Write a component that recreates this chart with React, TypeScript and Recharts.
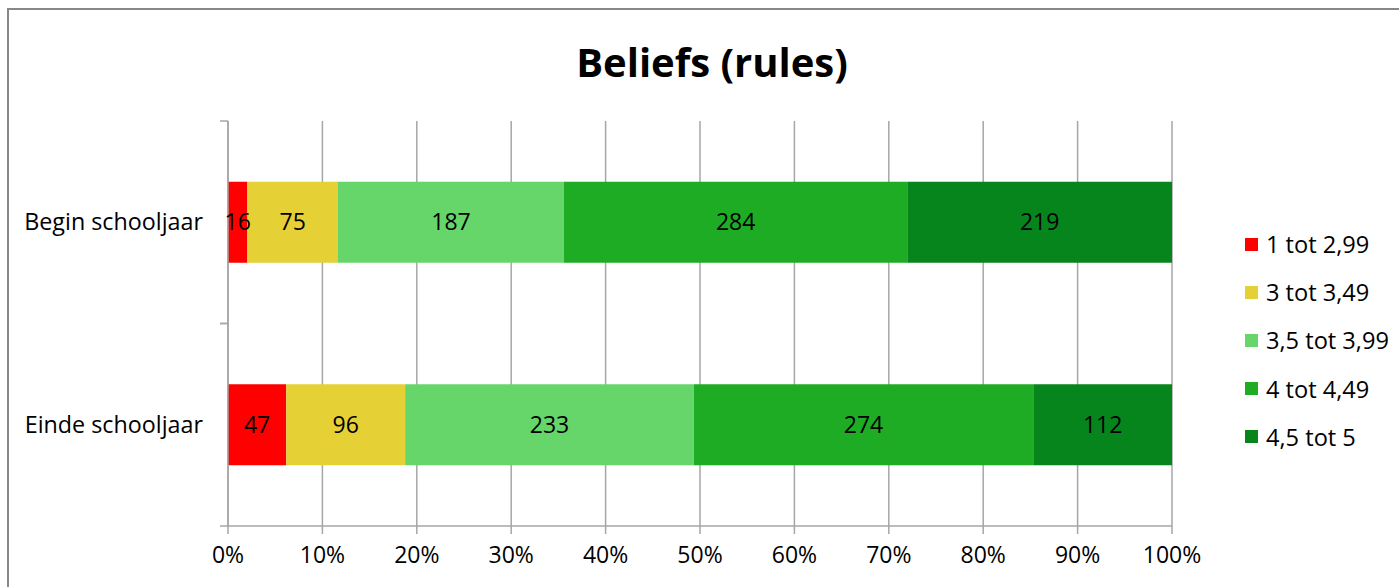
import React from 'react';
import {
  BarChart,
  Bar,
  XAxis,
  YAxis,
  CartesianGrid,
  Legend,
  LabelList,
} from 'recharts';

const categories = ['Begin schooljaar', 'Einde schooljaar'];
const seriesNames = ['1 tot 2,99', '3 tot 3,49', '3,5 tot 3,99', '4 tot 4,49', '4,5 tot 5'];
const seriesColors = ['#FF0000', '#E5D135', '#66D66A', '#1EAC25', '#06851D'];
const s1 = [16, 47];
const s2 = [75, 96];
const s3 = [187, 233];
const s4 = [284, 274];
const s5 = [219, 112];
const xTicks = [0, 0.1, 0.2, 0.3, 0.4, 0.5, 0.6, 0.7, 0.8, 0.9, 1];

const seriesValues = [s1, s2, s3, s4, s5];
const keys = ['s1', 's2', 's3', 's4', 's5'];

const data = categories.map((name, i) => {
  const row: Record<string, string | number> = { name };
  keys.forEach((k, j) => {
    row[k] = seriesValues[j][i];
  });
  return row;
});

const FONT = '"Open Sans", sans-serif';
const AXIS = '#A6A6A6';

// category label plus the small ticks on the band boundaries
const CategoryTick = (props: any) => {
  const { x, y, payload } = props;
  const half = payload.offset || 0;
  const ax = x + 25;
  return (
    <g>
      <line x1={ax - 8} x2={ax} y1={y - half} y2={y - half} stroke={AXIS} strokeWidth={1.5} />
      <line x1={ax - 8} x2={ax} y1={y + half} y2={y + half} stroke={AXIS} strokeWidth={1.5} />
      <text x={x} y={y} dy="0.35em" textAnchor="end" fill="#000" fontSize={23.3} fontFamily={FONT}>
        {payload.value}
      </text>
    </g>
  );
};

const LegendBox = () => (
  <div style={{ width: 150, height: 240, fontFamily: FONT, fontSize: 23.6, color: '#000' }}>
    {seriesNames.map((n, i) => (
      <div key={n} style={{ display: 'flex', alignItems: 'center', height: 48.2 }}>
        <span style={{ width: 13, height: 13, background: seriesColors[i], marginRight: 8, display: 'inline-block' }} />
        <span style={{ whiteSpace: 'nowrap' }}>{n}</span>
      </div>
    ))}
  </div>
);

export default function App() {
  return (
    <div style={{ position: 'fixed', left: 0, top: 0, width: 1399, height: 587, background: '#fff', overflow: 'hidden' }}>
      <div
        style={{
          position: 'absolute',
          left: 7,
          top: 8,
          width: 1500,
          height: 700,
          border: '2.5px solid #888',
          boxSizing: 'border-box',
        }}
      />
      <div
        style={{
          position: 'absolute',
          left: 0,
          width: 1424,
          top: 36,
          textAlign: 'center',
          fontFamily: FONT,
          fontWeight: 700,
          fontSize: 40,
          lineHeight: '52px',
          color: '#000',
        }}
      >
        Beliefs (rules)
      </div>
      <div style={{ position: 'absolute', left: 0, top: 0 }}>
        <BarChart
          width={1399}
          height={587}
          data={data}
          layout="vertical"
          stackOffset="expand"
          barCategoryGap="30%"
          margin={{ top: 121, right: 77, bottom: 21, left: 28 }}
        >
          <CartesianGrid horizontal={false} stroke={AXIS} strokeWidth={1.5} />
          <XAxis
            type="number"
            domain={[0, 1]}
            ticks={xTicks}
            tickFormatter={(v: number) => `${Math.round(v * 100)}%`}
            tickSize={8}
            tickMargin={13}
            height={40}
            axisLine={{ stroke: AXIS, strokeWidth: 1.5 }}
            tickLine={{ stroke: AXIS, strokeWidth: 1.5 }}
            tick={{ fill: '#000', fontSize: 23, fontFamily: FONT }}
            interval={0}
          />
          <YAxis
            type="category"
            dataKey="name"
            width={200}
            tickSize={0}
            tickMargin={25}
            axisLine={{ stroke: AXIS, strokeWidth: 1.5 }}
            tickLine={false}
            tick={<CategoryTick />}
          />
          <Legend
            layout="vertical"
            align="right"
            verticalAlign="top"
            width={150}
            content={<LegendBox />}
            wrapperStyle={{ left: 1245, top: 220 }}
          />
          {keys.map((k, i) => (
            <Bar key={k} dataKey={k} name={seriesNames[i]} stackId="a" fill={seriesColors[i]} isAnimationActive={false}>
              <LabelList dataKey={k} position="center" fill="#000" fontSize={23} fontFamily={FONT} />
            </Bar>
          ))}
        </BarChart>
      </div>
    </div>
  );
}
